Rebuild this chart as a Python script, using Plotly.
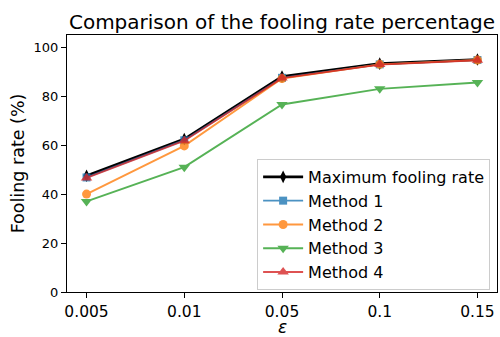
import plotly.graph_objects as go

eps_labels = ["0.005", "0.01", "0.05", "0.1", "0.15"]
max_rate = [47.5, 62.5, 88.0, 93.3, 95.0]
method1 = [46.8, 62.0, 87.5, 93.0, 94.8]
method2 = [40.0, 59.7, 87.2, 93.0, 94.8]
method3 = [37.0, 51.0, 76.6, 83.0, 85.6]
method4 = [46.6, 61.8, 87.4, 92.9, 94.7]

FONT = "DejaVu Sans"
fig = go.Figure()

fig.add_trace(go.Scatter(x=eps_labels, y=max_rate, name="Maximum fooling rate",
                         mode="lines+markers",
                         line=dict(color="black", width=2.6),
                         marker=dict(symbol="diamond-tall", size=9, color="black")))
series = [
    ("Method 1", method1, "#1f77b4", "square", 8),
    ("Method 2", method2, "#ff7f0e", "circle", 9),
    ("Method 3", method3, "#2ca02c", "triangle-down", 10),
    ("Method 4", method4, "#d62728", "triangle-up", 10),
]
for name, vals, col, sym, sz in series:
    fig.add_trace(go.Scatter(x=eps_labels, y=vals, name=name, mode="lines+markers",
                             opacity=0.8,
                             line=dict(color=col, width=1.9),
                             marker=dict(symbol=sym, size=sz, color=col)))

fig.update_layout(
    width=500, height=337,
    margin=dict(l=67, r=3, t=35, b=45),
    paper_bgcolor="white", plot_bgcolor="white",
    font=dict(family=FONT, color="black"),
    title=dict(text="Comparison of the fooling rate percentage",
               font=dict(size=20, family=FONT, color="black"),
               x=0.564, xanchor="center", xref="container",
               y=1 - 29 / 337, yanchor="bottom", yref="container"),
    showlegend=True,
    legend=dict(x=0.984, xanchor="right", y=0.008, yanchor="bottom",
                bgcolor="rgba(255,255,255,0.8)", bordercolor="#cccccc", borderwidth=1,
                font=dict(size=16, family=FONT), tracegroupgap=0, itemwidth=40),
    annotations=[dict(text="<i>ε</i>", xref="paper", yref="paper", x=0.5, y=-0.136,
                      xanchor="center", yanchor="middle", showarrow=False, borderpad=0,
                      font=dict(size=17, family=FONT, color="black"))],
)
fig.update_xaxes(type="category", range=[-0.2, 4.2], automargin=False,
                 showline=True, linecolor="black", linewidth=1, mirror=True,
                 ticks="outside", ticklen=5, tickcolor="black",
                 tickfont=dict(size=15.5, family=FONT),
                 showgrid=False, zeroline=False)
fig.update_yaxes(range=[0, 105], tickvals=[0, 20, 40, 60, 80, 100], automargin=False,
                 showline=True, linecolor="black", linewidth=1, mirror=True,
                 ticks="outside", ticklen=5, tickcolor="black",
                 tickfont=dict(size=13, family=FONT),
                 showgrid=False, zeroline=False,
                 title=dict(text="Fooling rate (%)", font=dict(size=17.5, family=FONT), standoff=4))

fig.write_html("out.html", config={"displayModeBar": False},
               post_script="document.body.style.margin='0';document.body.style.overflow='hidden';")
